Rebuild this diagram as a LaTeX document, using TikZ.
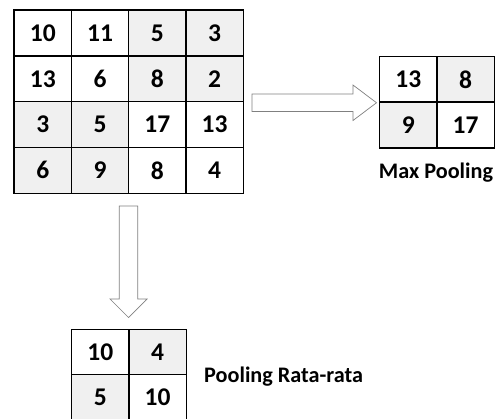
\documentclass[tikz,border=0pt]{standalone}
\usepackage{fontspec}
\setmainfont{Carlito}
\begin{document}
\begin{tikzpicture}[x=1pt,y=-1pt,
  cell/.style={draw=none, minimum width=57.25pt, minimum height=45.75pt,
               inner sep=0pt, font=\fontsize{25.5}{27}\selectfont\bfseries, anchor=north west},
  lite/.style={cell, fill=white},
  dark/.style={cell, fill=black!6},
  gridline/.style={draw=black, line width=1.5pt, line cap=rect},
  blockarrow/.style={draw=black!50, line width=0.7pt, fill=white, line join=miter},
  caption/.style={font=\fontsize{22.2}{24}\selectfont\bfseries, inner sep=0pt}]
\useasboundingbox (0,0) rectangle (501,418);

% input feature map, 4x4
\node[lite] (a11) at (14,10) {10};
\node[lite] (a12) at (71.25,10) {11};
\node[dark] (a13) at (128.5,10) {5};
\node[dark] (a14) at (185.75,10) {3};
\node[lite] (a21) at (14,55.75) {13};
\node[lite] (a22) at (71.25,55.75) {6};
\node[dark] (a23) at (128.5,55.75) {8};
\node[dark] (a24) at (185.75,55.75) {2};
\node[dark] (a31) at (14,101.5) {3};
\node[dark] (a32) at (71.25,101.5) {5};
\node[lite] (a33) at (128.5,101.5) {17};
\node[lite] (a34) at (185.75,101.5) {13};
\node[dark] (a41) at (14,147.25) {6};
\node[dark] (a42) at (71.25,147.25) {9};
\node[lite] (a43) at (128.5,147.25) {8};
\node[lite] (a44) at (185.75,147.25) {4};
\draw[gridline] (a11.north west) rectangle (a44.south east);
\foreach \c in {2,3,4} \draw[gridline] (a1\c.north west) -- (a4\c.south west);
\foreach \r in {2,3,4} \draw[gridline] (a\r1.north west) -- (a\r4.north east);

% max pooling result
\node[lite] (m11) at (379.5,56.25) {13};
\node[dark] (m12) at (436.75,56.25) {8};
\node[dark] (m21) at (379.5,102) {9};
\node[lite] (m22) at (436.75,102) {17};
\draw[gridline] (m11.north west) rectangle (m22.south east);
\draw[gridline] (m12.north west) -- (m22.south west);
\draw[gridline] (m21.north west) -- (m22.north east);
\node[caption, anchor=base] (mcap) at (436,178) {Max Pooling};

% average pooling result
\node[lite] (p11) at (71.5,329.5) {10};
\node[dark] (p12) at (128.75,329.5) {4};
\node[dark] (p21) at (71.5,374.5) {5};
\node[lite] (p22) at (128.75,374.5) {10};
\draw[gridline] (p11.north west) rectangle (p22.south east);
\draw[gridline] (p12.north west) -- (p22.south west);
\draw[gridline] (p21.north west) -- (p22.north east);
\node[caption, anchor=base west] (pcap) at (204,382) {Pooling Rata-rata};

% block arrow to the right
\coordinate (ra) at (252,102.75);
\draw[blockarrow] (ra) ++(0,-8.75) -- ++(101,0) -- ++(0,-9) -- ++(23.5,17.75)
  -- ++(-23.5,17.75) -- ++(0,-9) -- ++(-101,0) -- cycle;

% block arrow downward
\coordinate (da) at (128.5,206);
\draw[blockarrow] (da) ++(-9.25,0) -- ++(18.5,0) -- ++(0,93) -- ++(9.25,0)
  -- ++(-18.5,18.5) -- ++(-18.5,-18.5) -- ++(9.25,0) -- cycle;
\end{tikzpicture}
\end{document}
